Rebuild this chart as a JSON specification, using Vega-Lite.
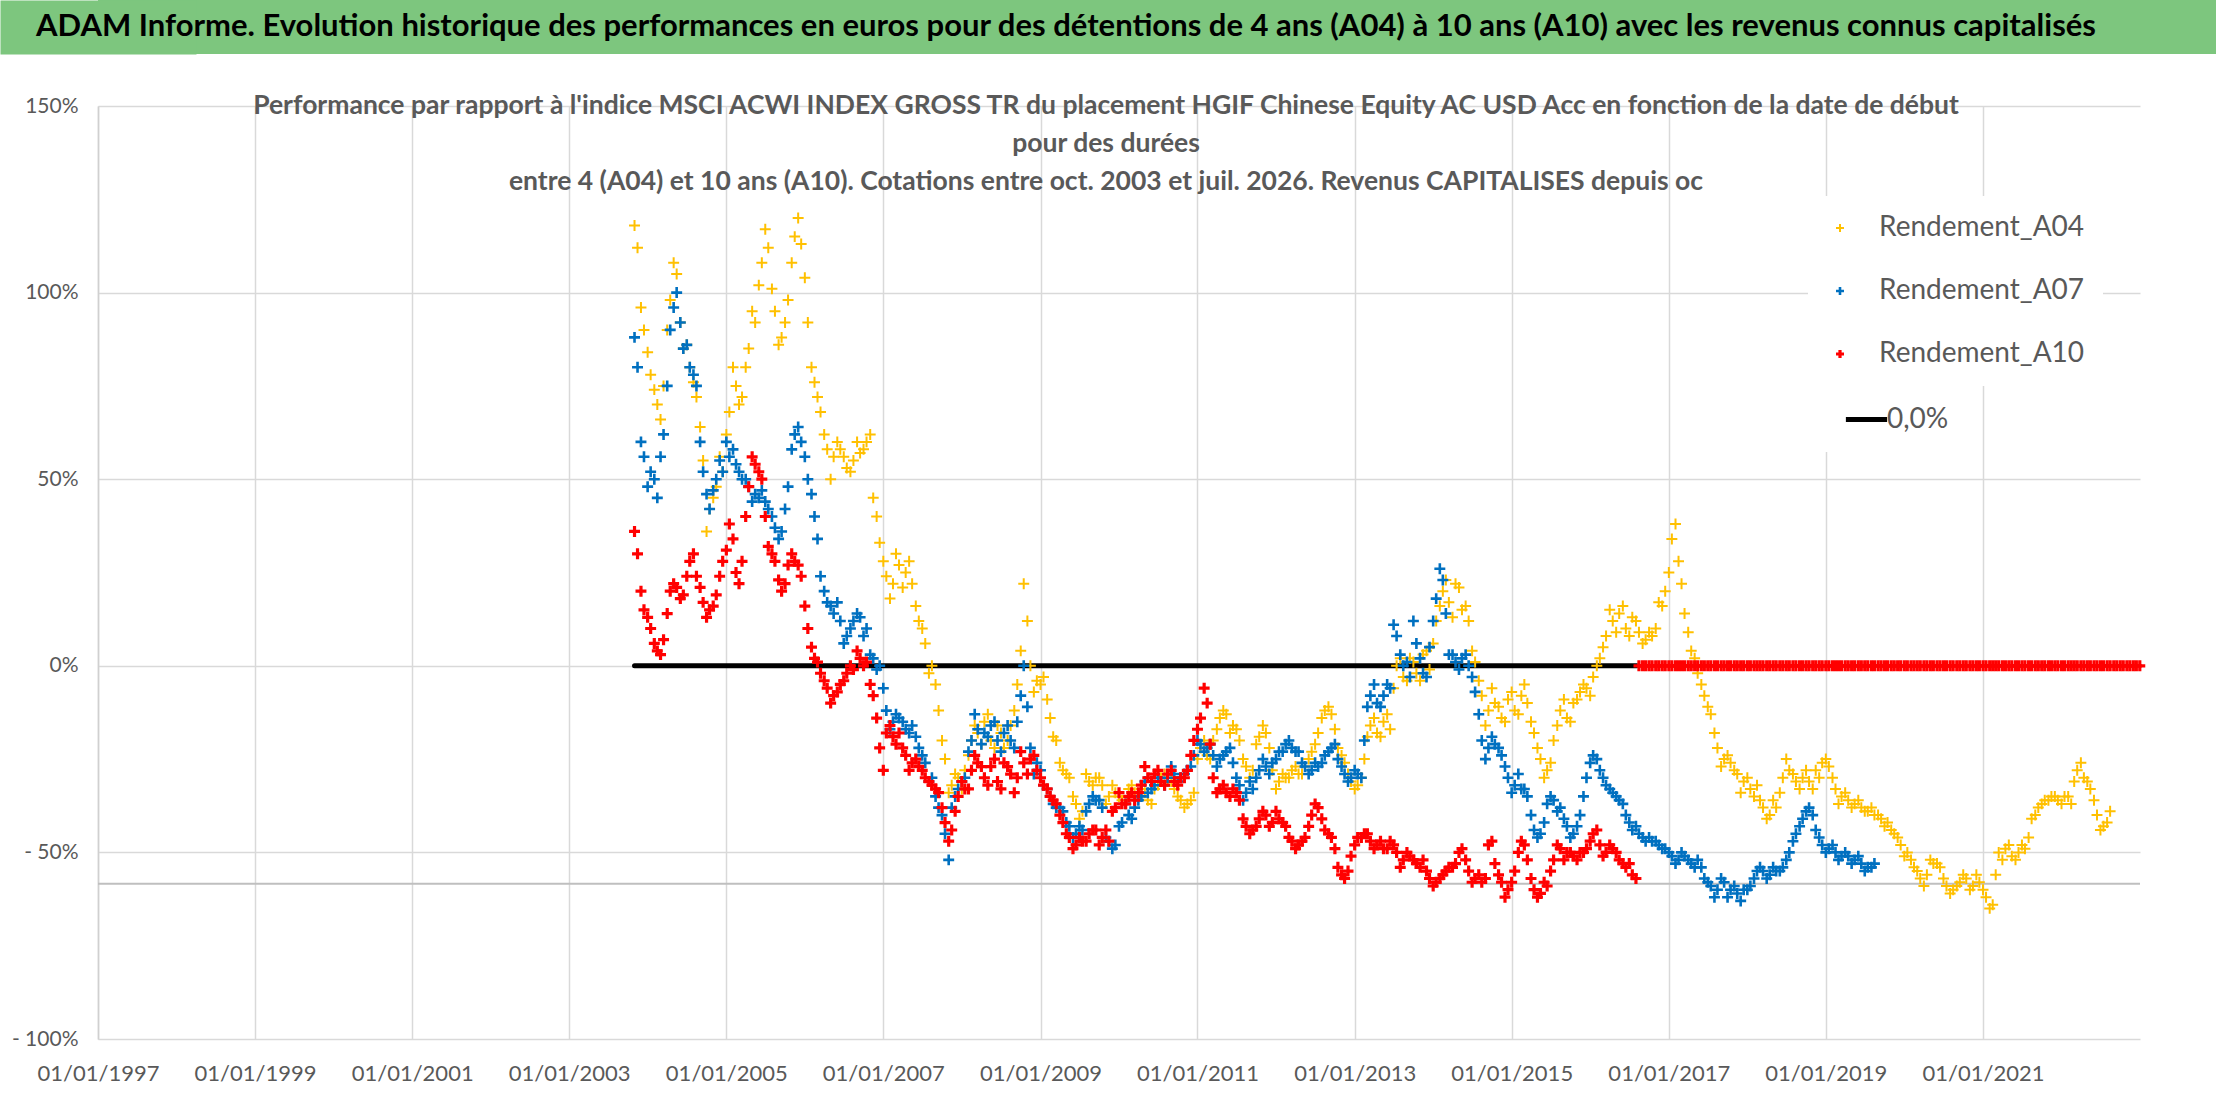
{
  "$schema": "https://vega.github.io/schema/vega-lite/v6.json",
  "padding": 0,
  "background": "white",
  "columns": 1,
  "align": "none",
  "spacing": 38,
  "datasets": {
    "zero": [{"d": "2003/11/01", "v": 0, "k": "0,0%"}, {"d": "2016/08/05", "v": 0, "k": "0,0%"}],
    "pts": [
      {"d": "2003/11/01", "a": 118, "b": 88, "c": 36},
      {"d": "2003/11/15", "a": 112, "b": 80, "c": 30},
      {"d": "2003/12/01", "a": 96, "b": 60, "c": 20},
      {"d": "2003/12/15", "a": 90, "b": 56, "c": 15},
      {"d": "2004/01/01", "a": 84, "b": 48, "c": 13},
      {"d": "2004/01/15", "a": 78, "b": 52, "c": 10},
      {"d": "2004/02/01", "a": 74, "b": 50, "c": 6},
      {"d": "2004/02/15", "a": 70, "b": 45, "c": 4},
      {"d": "2004/03/01", "a": 66, "b": 56, "c": 3},
      {"d": "2004/03/15", "a": 75, "b": 62, "c": 7},
      {"d": "2004/04/01", "a": 90, "b": 75, "c": 14},
      {"d": "2004/04/15", "a": 98, "b": 90, "c": 20},
      {"d": "2004/05/01", "a": 108, "b": 96, "c": 22},
      {"d": "2004/05/15", "a": 105, "b": 100, "c": 21},
      {"d": "2004/06/01", "a": 92, "b": 92, "c": 18},
      {"d": "2004/06/15", "a": 85, "b": 85, "c": 19},
      {"d": "2004/07/01", "a": 86, "b": 86, "c": 24},
      {"d": "2004/07/15", "a": 80, "b": 80, "c": 28},
      {"d": "2004/08/01", "a": 76, "b": 78, "c": 30},
      {"d": "2004/08/15", "a": 72, "b": 75, "c": 24},
      {"d": "2004/09/01", "a": 64, "b": 60, "c": 21},
      {"d": "2004/09/15", "a": 55, "b": 52, "c": 17},
      {"d": "2004/10/01", "a": 36, "b": 46, "c": 13},
      {"d": "2004/10/15", "a": 42, "b": 42, "c": 15},
      {"d": "2004/11/01", "a": 45, "b": 47, "c": 16},
      {"d": "2004/11/15", "a": 48, "b": 50, "c": 19},
      {"d": "2004/12/01", "a": 56, "b": 55, "c": 24},
      {"d": "2004/12/15", "a": 52, "b": 52, "c": 28},
      {"d": "2005/01/01", "a": 62, "b": 60, "c": 31},
      {"d": "2005/01/15", "a": 68, "b": 56, "c": 38},
      {"d": "2005/02/01", "a": 80, "b": 58, "c": 34},
      {"d": "2005/02/15", "a": 75, "b": 54, "c": 25},
      {"d": "2005/03/01", "a": 70, "b": 52, "c": 22},
      {"d": "2005/03/15", "a": 72, "b": 50, "c": 28},
      {"d": "2005/04/01", "a": 80, "b": 50, "c": 40},
      {"d": "2005/04/15", "a": 85, "b": 48, "c": 48},
      {"d": "2005/05/01", "a": 95, "b": 44, "c": 56},
      {"d": "2005/05/15", "a": 92, "b": 46, "c": 54},
      {"d": "2005/06/01", "a": 102, "b": 45, "c": 52},
      {"d": "2005/06/15", "a": 108, "b": 47, "c": 50},
      {"d": "2005/07/01", "a": 117, "b": 44, "c": 40},
      {"d": "2005/07/15", "a": 112, "b": 42, "c": 32},
      {"d": "2005/08/01", "a": 101, "b": 40, "c": 30},
      {"d": "2005/08/15", "a": 95, "b": 37, "c": 28},
      {"d": "2005/09/01", "a": 86, "b": 34, "c": 23},
      {"d": "2005/09/15", "a": 88, "b": 36, "c": 20},
      {"d": "2005/10/01", "a": 92, "b": 42, "c": 22},
      {"d": "2005/10/15", "a": 98, "b": 48, "c": 27},
      {"d": "2005/11/01", "a": 108, "b": 58, "c": 30},
      {"d": "2005/11/15", "a": 115, "b": 62, "c": 28},
      {"d": "2005/12/01", "a": 120, "b": 64, "c": 27},
      {"d": "2005/12/15", "a": 113, "b": 60, "c": 24},
      {"d": "2006/01/01", "a": 104, "b": 56, "c": 16},
      {"d": "2006/01/15", "a": 92, "b": 50, "c": 10},
      {"d": "2006/02/01", "a": 80, "b": 46, "c": 5},
      {"d": "2006/02/15", "a": 76, "b": 40, "c": 2},
      {"d": "2006/03/01", "a": 72, "b": 34, "c": 1},
      {"d": "2006/03/15", "a": 68, "b": 24, "c": -2},
      {"d": "2006/04/01", "a": 62, "b": 20, "c": -4},
      {"d": "2006/04/15", "a": 58, "b": 17, "c": -6},
      {"d": "2006/05/01", "a": 50, "b": 16, "c": -10},
      {"d": "2006/05/15", "a": 56, "b": 14, "c": -8},
      {"d": "2006/06/01", "a": 60, "b": 17, "c": -7},
      {"d": "2006/06/15", "a": 58, "b": 12, "c": -5},
      {"d": "2006/07/01", "a": 56, "b": 6, "c": -4},
      {"d": "2006/07/15", "a": 53, "b": 8, "c": -2},
      {"d": "2006/08/01", "a": 52, "b": 10, "c": 0},
      {"d": "2006/08/15", "a": 55, "b": 12, "c": -1},
      {"d": "2006/09/01", "a": 60, "b": 14, "c": 4},
      {"d": "2006/09/15", "a": 57, "b": 13, "c": 2},
      {"d": "2006/10/01", "a": 58, "b": 8, "c": 0},
      {"d": "2006/10/15", "a": 60, "b": 10, "c": 1},
      {"d": "2006/11/01", "a": 62, "b": 3, "c": -5},
      {"d": "2006/11/15", "a": 45, "b": 2, "c": -8},
      {"d": "2006/12/01", "a": 40, "b": -1, "c": -14},
      {"d": "2006/12/15", "a": 33, "b": 0, "c": -22},
      {"d": "2007/01/01", "a": 28, "b": -6, "c": -28},
      {"d": "2007/01/15", "a": 24, "b": -12, "c": -18},
      {"d": "2007/02/01", "a": 18, "b": -17, "c": -16},
      {"d": "2007/02/15", "a": 22, "b": -15, "c": -19},
      {"d": "2007/03/01", "a": 30, "b": -13, "c": -21},
      {"d": "2007/03/15", "a": 27, "b": -14, "c": -18},
      {"d": "2007/04/01", "a": 21, "b": -15, "c": -22},
      {"d": "2007/04/15", "a": 25, "b": -17, "c": -24},
      {"d": "2007/05/01", "a": 28, "b": -18, "c": -28},
      {"d": "2007/05/15", "a": 22, "b": -16, "c": -26},
      {"d": "2007/06/01", "a": 16, "b": -19, "c": -25},
      {"d": "2007/06/15", "a": 12, "b": -22, "c": -27},
      {"d": "2007/07/01", "a": 10, "b": -24, "c": -28},
      {"d": "2007/07/15", "a": 6, "b": -26, "c": -30},
      {"d": "2007/08/01", "a": -2, "b": -31, "c": -31},
      {"d": "2007/08/15", "a": 0, "b": -30, "c": -32},
      {"d": "2007/09/01", "a": -5, "b": -35, "c": -33},
      {"d": "2007/09/15", "a": -12, "b": -38, "c": -34},
      {"d": "2007/10/01", "a": -20, "b": -40, "c": -38},
      {"d": "2007/10/15", "a": -25, "b": -45, "c": -42},
      {"d": "2007/11/01", "a": -34, "b": -52, "c": -47},
      {"d": "2007/11/15", "a": -32, "b": -38, "c": -44},
      {"d": "2007/12/01", "a": -29, "b": -35, "c": -39},
      {"d": "2007/12/15", "a": -30, "b": -33, "c": -35},
      {"d": "2008/01/01", "a": -33, "b": -31, "c": -31},
      {"d": "2008/01/15", "a": -28, "b": -30, "c": -33},
      {"d": "2008/02/01", "a": -24, "b": -23, "c": -33},
      {"d": "2008/02/15", "a": -20, "b": -20, "c": -28},
      {"d": "2008/03/01", "a": -16, "b": -13, "c": -24},
      {"d": "2008/03/15", "a": -18, "b": -17, "c": -26},
      {"d": "2008/04/01", "a": -21, "b": -21, "c": -27},
      {"d": "2008/04/15", "a": -15, "b": -18, "c": -30},
      {"d": "2008/05/01", "a": -13, "b": -19, "c": -32},
      {"d": "2008/05/15", "a": -20, "b": -16, "c": -27},
      {"d": "2008/06/01", "a": -22, "b": -15, "c": -25},
      {"d": "2008/06/15", "a": -16, "b": -20, "c": -31},
      {"d": "2008/07/01", "a": -18, "b": -23, "c": -33},
      {"d": "2008/07/15", "a": -22, "b": -18, "c": -26},
      {"d": "2008/08/01", "a": -20, "b": -16, "c": -27},
      {"d": "2008/08/15", "a": -16, "b": -20, "c": -29},
      {"d": "2008/09/01", "a": -12, "b": -22, "c": -34},
      {"d": "2008/09/15", "a": -5, "b": -15, "c": -30},
      {"d": "2008/10/01", "a": 4, "b": -8, "c": -23},
      {"d": "2008/10/15", "a": 22, "b": 0, "c": -26},
      {"d": "2008/11/01", "a": 12, "b": -11, "c": -29},
      {"d": "2008/11/15", "a": 0, "b": -22, "c": -25},
      {"d": "2008/12/01", "a": -7, "b": -29, "c": -24},
      {"d": "2008/12/15", "a": -4, "b": -26, "c": -28},
      {"d": "2009/01/01", "a": -5, "b": -28, "c": -30},
      {"d": "2009/01/15", "a": -3, "b": -32, "c": -32},
      {"d": "2009/02/01", "a": -9, "b": -33, "c": -33},
      {"d": "2009/02/15", "a": -14, "b": -35, "c": -35},
      {"d": "2009/03/01", "a": -19, "b": -37, "c": -36},
      {"d": "2009/03/15", "a": -20, "b": -38, "c": -37},
      {"d": "2009/04/01", "a": -26, "b": -38, "c": -40},
      {"d": "2009/04/15", "a": -28, "b": -39, "c": -42},
      {"d": "2009/05/01", "a": -29, "b": -42, "c": -45},
      {"d": "2009/05/15", "a": -30, "b": -43, "c": -46},
      {"d": "2009/06/01", "a": -35, "b": -46, "c": -49},
      {"d": "2009/06/15", "a": -37, "b": -45, "c": -48},
      {"d": "2009/07/01", "a": -41, "b": -43, "c": -46},
      {"d": "2009/07/15", "a": -39, "b": -44, "c": -47},
      {"d": "2009/08/01", "a": -29, "b": -39, "c": -47},
      {"d": "2009/08/15", "a": -31, "b": -37, "c": -45},
      {"d": "2009/09/01", "a": -32, "b": -35, "c": -44},
      {"d": "2009/09/15", "a": -30, "b": -36, "c": -44},
      {"d": "2009/10/01", "a": -30, "b": -36, "c": -48},
      {"d": "2009/10/15", "a": -32, "b": -38, "c": -46},
      {"d": "2009/11/01", "a": -37, "b": -46, "c": -44},
      {"d": "2009/11/15", "a": -35, "b": -47, "c": -47},
      {"d": "2009/12/01", "a": -32, "b": -49, "c": -39},
      {"d": "2009/12/15", "a": -34, "b": -48, "c": -38},
      {"d": "2010/01/01", "a": -35, "b": -43, "c": -34},
      {"d": "2010/01/15", "a": -36, "b": -42, "c": -37},
      {"d": "2010/02/01", "a": -37, "b": -37, "c": -37},
      {"d": "2010/02/15", "a": -33, "b": -40, "c": -35},
      {"d": "2010/03/01", "a": -32, "b": -41, "c": -34},
      {"d": "2010/03/15", "a": -34, "b": -38, "c": -36},
      {"d": "2010/04/01", "a": -35, "b": -36, "c": -34},
      {"d": "2010/04/15", "a": -33, "b": -35, "c": -32},
      {"d": "2010/05/01", "a": -34, "b": -31, "c": -27},
      {"d": "2010/05/15", "a": -36, "b": -34, "c": -30},
      {"d": "2010/06/01", "a": -37, "b": -33, "c": -31},
      {"d": "2010/06/15", "a": -33, "b": -32, "c": -29},
      {"d": "2010/07/01", "a": -32, "b": -30, "c": -28},
      {"d": "2010/07/15", "a": -30, "b": -31, "c": -31},
      {"d": "2010/08/01", "a": -29, "b": -32, "c": -32},
      {"d": "2010/08/15", "a": -31, "b": -30, "c": -29},
      {"d": "2010/09/01", "a": -31, "b": -27, "c": -28},
      {"d": "2010/09/15", "a": -33, "b": -29, "c": -31},
      {"d": "2010/10/01", "a": -35, "b": -31, "c": -32},
      {"d": "2010/10/15", "a": -36, "b": -30, "c": -30},
      {"d": "2010/11/01", "a": -38, "b": -29, "c": -30},
      {"d": "2010/11/15", "a": -37, "b": -28, "c": -28},
      {"d": "2010/12/01", "a": -36, "b": -27, "c": -24},
      {"d": "2010/12/15", "a": -34, "b": -24, "c": -20},
      {"d": "2011/01/01", "a": -25, "b": -20, "c": -17},
      {"d": "2011/01/15", "a": -22, "b": -21, "c": -14},
      {"d": "2011/02/01", "a": -20, "b": -23, "c": -6},
      {"d": "2011/02/15", "a": -24, "b": -22, "c": -10},
      {"d": "2011/03/01", "a": -25, "b": -21, "c": -21},
      {"d": "2011/03/15", "a": -20, "b": -24, "c": -30},
      {"d": "2011/04/01", "a": -17, "b": -27, "c": -34},
      {"d": "2011/04/15", "a": -14, "b": -25, "c": -33},
      {"d": "2011/05/01", "a": -12, "b": -24, "c": -32},
      {"d": "2011/05/15", "a": -13, "b": -23, "c": -34},
      {"d": "2011/06/01", "a": -18, "b": -22, "c": -35},
      {"d": "2011/06/15", "a": -16, "b": -26, "c": -33},
      {"d": "2011/07/01", "a": -17, "b": -30, "c": -34},
      {"d": "2011/07/15", "a": -20, "b": -32, "c": -36},
      {"d": "2011/08/01", "a": -25, "b": -36, "c": -41},
      {"d": "2011/08/15", "a": -27, "b": -34, "c": -43},
      {"d": "2011/09/01", "a": -30, "b": -31, "c": -45},
      {"d": "2011/09/15", "a": -28, "b": -33, "c": -44},
      {"d": "2011/10/01", "a": -21, "b": -30, "c": -43},
      {"d": "2011/10/15", "a": -19, "b": -28, "c": -41},
      {"d": "2011/11/01", "a": -16, "b": -25, "c": -39},
      {"d": "2011/11/15", "a": -18, "b": -27, "c": -40},
      {"d": "2011/12/01", "a": -22, "b": -29, "c": -43},
      {"d": "2011/12/15", "a": -28, "b": -26, "c": -42},
      {"d": "2012/01/01", "a": -33, "b": -25, "c": -39},
      {"d": "2012/01/15", "a": -31, "b": -23, "c": -41},
      {"d": "2012/02/01", "a": -29, "b": -23, "c": -42},
      {"d": "2012/02/15", "a": -30, "b": -21, "c": -43},
      {"d": "2012/03/01", "a": -30, "b": -20, "c": -46},
      {"d": "2012/03/15", "a": -28, "b": -22, "c": -47},
      {"d": "2012/04/01", "a": -27, "b": -23, "c": -49},
      {"d": "2012/04/15", "a": -29, "b": -23, "c": -48},
      {"d": "2012/05/01", "a": -29, "b": -26, "c": -47},
      {"d": "2012/05/15", "a": -27, "b": -27, "c": -46},
      {"d": "2012/06/01", "a": -25, "b": -29, "c": -43},
      {"d": "2012/06/15", "a": -23, "b": -28, "c": -40},
      {"d": "2012/07/01", "a": -21, "b": -26, "c": -37},
      {"d": "2012/07/15", "a": -18, "b": -27, "c": -38},
      {"d": "2012/08/01", "a": -14, "b": -26, "c": -41},
      {"d": "2012/08/15", "a": -12, "b": -24, "c": -44},
      {"d": "2012/09/01", "a": -11, "b": -23, "c": -45},
      {"d": "2012/09/15", "a": -13, "b": -22, "c": -46},
      {"d": "2012/10/01", "a": -17, "b": -21, "c": -49},
      {"d": "2012/10/15", "a": -22, "b": -25, "c": -54},
      {"d": "2012/11/01", "a": -24, "b": -27, "c": -56},
      {"d": "2012/11/15", "a": -26, "b": -29, "c": -57},
      {"d": "2012/12/01", "a": -29, "b": -31, "c": -55},
      {"d": "2012/12/15", "a": -31, "b": -30, "c": -51},
      {"d": "2013/01/01", "a": -33, "b": -28, "c": -48},
      {"d": "2013/01/15", "a": -32, "b": -29, "c": -46},
      {"d": "2013/02/01", "a": -30, "b": -30, "c": -46},
      {"d": "2013/02/15", "a": -25, "b": -20, "c": -45},
      {"d": "2013/03/01", "a": -19, "b": -11, "c": -45},
      {"d": "2013/03/15", "a": -16, "b": -8, "c": -47},
      {"d": "2013/04/01", "a": -14, "b": -5, "c": -49},
      {"d": "2013/04/15", "a": -18, "b": -10, "c": -48},
      {"d": "2013/05/01", "a": -19, "b": -11, "c": -47},
      {"d": "2013/05/15", "a": -15, "b": -8, "c": -49},
      {"d": "2013/06/01", "a": -13, "b": -5, "c": -49},
      {"d": "2013/06/15", "a": -17, "b": -6, "c": -47},
      {"d": "2013/07/01", "a": -6, "b": 11, "c": -48},
      {"d": "2013/07/15", "a": 0, "b": 8, "c": -50},
      {"d": "2013/08/01", "a": 2, "b": 3, "c": -54},
      {"d": "2013/08/15", "a": -3, "b": 0, "c": -52},
      {"d": "2013/09/01", "a": -4, "b": 1, "c": -50},
      {"d": "2013/09/15", "a": 2, "b": -3, "c": -51},
      {"d": "2013/10/01", "a": 1, "b": 12, "c": -52},
      {"d": "2013/10/15", "a": -2, "b": 6, "c": -53},
      {"d": "2013/11/01", "a": -4, "b": 2, "c": -54},
      {"d": "2013/11/15", "a": 3, "b": -2, "c": -52},
      {"d": "2013/12/01", "a": 4, "b": -3, "c": -55},
      {"d": "2013/12/15", "a": -1, "b": 5, "c": -57},
      {"d": "2014/01/01", "a": 6, "b": 12, "c": -59},
      {"d": "2014/01/15", "a": 12, "b": 18, "c": -58},
      {"d": "2014/02/01", "a": 16, "b": 26, "c": -57},
      {"d": "2014/02/15", "a": 20, "b": 23, "c": -56},
      {"d": "2014/03/01", "a": 23, "b": 14, "c": -55},
      {"d": "2014/03/15", "a": 17, "b": 3, "c": -54},
      {"d": "2014/04/01", "a": 13, "b": 3, "c": -54},
      {"d": "2014/04/15", "a": 22, "b": 1, "c": -53},
      {"d": "2014/05/01", "a": 21, "b": -1, "c": -50},
      {"d": "2014/05/15", "a": 15, "b": 2, "c": -49},
      {"d": "2014/06/01", "a": 16, "b": 3, "c": -52},
      {"d": "2014/06/15", "a": 12, "b": 0, "c": -55},
      {"d": "2014/07/01", "a": 4, "b": -3, "c": -58},
      {"d": "2014/07/15", "a": 1, "b": -7, "c": -57},
      {"d": "2014/08/01", "a": -4, "b": -13, "c": -56},
      {"d": "2014/08/15", "a": -8, "b": -20, "c": -58},
      {"d": "2014/09/01", "a": -16, "b": -25, "c": -57},
      {"d": "2014/09/15", "a": -12, "b": -22, "c": -48},
      {"d": "2014/10/01", "a": -6, "b": -19, "c": -47},
      {"d": "2014/10/15", "a": -10, "b": -21, "c": -53},
      {"d": "2014/11/01", "a": -11, "b": -22, "c": -56},
      {"d": "2014/11/15", "a": -14, "b": -24, "c": -58},
      {"d": "2014/12/01", "a": -15, "b": -27, "c": -62},
      {"d": "2014/12/15", "a": -9, "b": -30, "c": -60},
      {"d": "2015/01/01", "a": -7, "b": -34, "c": -58},
      {"d": "2015/01/15", "a": -12, "b": -32, "c": -55},
      {"d": "2015/02/01", "a": -13, "b": -29, "c": -50},
      {"d": "2015/02/15", "a": -8, "b": -33, "c": -47},
      {"d": "2015/03/01", "a": -5, "b": -33, "c": -48},
      {"d": "2015/03/15", "a": -10, "b": -35, "c": -52},
      {"d": "2015/04/01", "a": -15, "b": -40, "c": -57},
      {"d": "2015/04/15", "a": -18, "b": -44, "c": -60},
      {"d": "2015/05/01", "a": -22, "b": -46, "c": -62},
      {"d": "2015/05/15", "a": -25, "b": -45, "c": -61},
      {"d": "2015/06/01", "a": -30, "b": -42, "c": -58},
      {"d": "2015/06/15", "a": -28, "b": -37, "c": -59},
      {"d": "2015/07/01", "a": -26, "b": -35, "c": -55},
      {"d": "2015/07/15", "a": -20, "b": -36, "c": -52},
      {"d": "2015/08/01", "a": -16, "b": -39, "c": -48},
      {"d": "2015/08/15", "a": -12, "b": -38, "c": -49},
      {"d": "2015/09/01", "a": -9, "b": -41, "c": -52},
      {"d": "2015/09/15", "a": -14, "b": -43, "c": -50},
      {"d": "2015/10/01", "a": -15, "b": -46, "c": -50},
      {"d": "2015/10/15", "a": -10, "b": -45, "c": -51},
      {"d": "2015/11/01", "a": -9, "b": -43, "c": -52},
      {"d": "2015/11/15", "a": -7, "b": -40, "c": -50},
      {"d": "2015/12/01", "a": -5, "b": -35, "c": -50},
      {"d": "2015/12/15", "a": -6, "b": -30, "c": -49},
      {"d": "2016/01/01", "a": -8, "b": -26, "c": -47},
      {"d": "2016/01/15", "a": -3, "b": -24, "c": -45},
      {"d": "2016/02/01", "a": 0, "b": -25, "c": -44},
      {"d": "2016/02/15", "a": 2, "b": -28, "c": -48},
      {"d": "2016/03/01", "a": 5, "b": -30, "c": -51},
      {"d": "2016/03/15", "a": 8, "b": -32, "c": -50},
      {"d": "2016/04/01", "a": 15, "b": -33, "c": -48},
      {"d": "2016/04/15", "a": 12, "b": -34, "c": -49},
      {"d": "2016/05/01", "a": 9, "b": -35, "c": -50},
      {"d": "2016/05/15", "a": 14, "b": -36, "c": -52},
      {"d": "2016/06/01", "a": 16, "b": -37, "c": -53},
      {"d": "2016/06/15", "a": 10, "b": -40, "c": -54},
      {"d": "2016/07/01", "a": 8, "b": -42, "c": -53},
      {"d": "2016/07/15", "a": 13, "b": -44, "c": -56},
      {"d": "2016/08/01", "a": 12, "b": -43, "c": -57},
      {"d": "2016/08/15", "a": 9, "b": -45, "c": 0},
      {"d": "2016/09/01", "a": 6, "b": -46, "c": 0},
      {"d": "2016/09/15", "a": 7, "b": -47, "c": 0},
      {"d": "2016/10/01", "a": 9, "b": -46, "c": 0},
      {"d": "2016/10/15", "a": 8, "b": -47, "c": 0},
      {"d": "2016/11/01", "a": 10, "b": -47, "c": 0},
      {"d": "2016/11/15", "a": 17, "b": -48, "c": 0},
      {"d": "2016/12/01", "a": 16, "b": -49, "c": 0},
      {"d": "2016/12/15", "a": 20, "b": -49, "c": 0},
      {"d": "2017/01/01", "a": 25, "b": -50, "c": 0},
      {"d": "2017/01/15", "a": 34, "b": -51, "c": 0},
      {"d": "2017/02/01", "a": 38, "b": -53, "c": 0},
      {"d": "2017/02/15", "a": 28, "b": -52, "c": 0},
      {"d": "2017/03/01", "a": 22, "b": -50, "c": 0},
      {"d": "2017/03/15", "a": 14, "b": -51, "c": 0},
      {"d": "2017/04/01", "a": 9, "b": -52, "c": 0},
      {"d": "2017/04/15", "a": 4, "b": -53, "c": 0},
      {"d": "2017/05/01", "a": 2, "b": -54, "c": 0},
      {"d": "2017/05/15", "a": -2, "b": -52, "c": 0},
      {"d": "2017/06/01", "a": -5, "b": -54, "c": 0},
      {"d": "2017/06/15", "a": -8, "b": -57, "c": 0},
      {"d": "2017/07/01", "a": -11, "b": -58, "c": 0},
      {"d": "2017/07/15", "a": -13, "b": -59, "c": 0},
      {"d": "2017/08/01", "a": -18, "b": -62, "c": 0},
      {"d": "2017/08/15", "a": -22, "b": -60, "c": 0},
      {"d": "2017/09/01", "a": -27, "b": -57, "c": 0},
      {"d": "2017/09/15", "a": -25, "b": -58, "c": 0},
      {"d": "2017/10/01", "a": -24, "b": -62, "c": 0},
      {"d": "2017/10/15", "a": -26, "b": -60, "c": 0},
      {"d": "2017/11/01", "a": -28, "b": -59, "c": 0},
      {"d": "2017/11/15", "a": -29, "b": -61, "c": 0},
      {"d": "2017/12/01", "a": -34, "b": -63, "c": 0},
      {"d": "2017/12/15", "a": -31, "b": -60, "c": 0},
      {"d": "2018/01/01", "a": -30, "b": -60, "c": 0},
      {"d": "2018/01/15", "a": -33, "b": -59, "c": 0},
      {"d": "2018/02/01", "a": -35, "b": -57, "c": 0},
      {"d": "2018/02/15", "a": -32, "b": -55, "c": 0},
      {"d": "2018/03/01", "a": -36, "b": -54, "c": 0},
      {"d": "2018/03/15", "a": -38, "b": -55, "c": 0},
      {"d": "2018/04/01", "a": -41, "b": -57, "c": 0},
      {"d": "2018/04/15", "a": -40, "b": -56, "c": 0},
      {"d": "2018/05/01", "a": -36, "b": -54, "c": 0},
      {"d": "2018/05/15", "a": -38, "b": -55, "c": 0},
      {"d": "2018/06/01", "a": -34, "b": -55, "c": 0},
      {"d": "2018/06/15", "a": -30, "b": -54, "c": 0},
      {"d": "2018/07/01", "a": -25, "b": -52, "c": 0},
      {"d": "2018/07/15", "a": -28, "b": -50, "c": 0},
      {"d": "2018/08/01", "a": -29, "b": -47, "c": 0},
      {"d": "2018/08/15", "a": -31, "b": -45, "c": 0},
      {"d": "2018/09/01", "a": -33, "b": -43, "c": 0},
      {"d": "2018/09/15", "a": -30, "b": -41, "c": 0},
      {"d": "2018/10/01", "a": -28, "b": -39, "c": 0},
      {"d": "2018/10/15", "a": -31, "b": -38, "c": 0},
      {"d": "2018/11/01", "a": -33, "b": -40, "c": 0},
      {"d": "2018/11/15", "a": -28, "b": -44, "c": 0},
      {"d": "2018/12/01", "a": -30, "b": -46, "c": 0},
      {"d": "2018/12/15", "a": -26, "b": -48, "c": 0},
      {"d": "2019/01/01", "a": -25, "b": -50, "c": 0},
      {"d": "2019/01/15", "a": -27, "b": -49, "c": 0},
      {"d": "2019/02/01", "a": -30, "b": -48, "c": 0},
      {"d": "2019/02/15", "a": -33, "b": -50, "c": 0},
      {"d": "2019/03/01", "a": -37, "b": -52, "c": 0},
      {"d": "2019/03/15", "a": -35, "b": -51, "c": 0},
      {"d": "2019/04/01", "a": -34, "b": -50, "c": 0},
      {"d": "2019/04/15", "a": -36, "b": -51, "c": 0},
      {"d": "2019/05/01", "a": -38, "b": -53, "c": 0},
      {"d": "2019/05/15", "a": -37, "b": -52, "c": 0},
      {"d": "2019/06/01", "a": -36, "b": -51, "c": 0},
      {"d": "2019/06/15", "a": -38, "b": -53, "c": 0},
      {"d": "2019/07/01", "a": -39, "b": -55, "c": 0},
      {"d": "2019/07/15", "a": -39, "b": -54, "c": 0},
      {"d": "2019/08/01", "a": -38, "b": -54, "c": 0},
      {"d": "2019/08/15", "a": -40, "b": -53, "c": 0},
      {"d": "2019/09/01", "a": -40, "c": 0},
      {"d": "2019/09/15", "a": -41, "c": 0},
      {"d": "2019/10/01", "a": -43, "c": 0},
      {"d": "2019/10/15", "a": -42, "c": 0},
      {"d": "2019/11/01", "a": -44, "c": 0},
      {"d": "2019/11/15", "a": -45, "c": 0},
      {"d": "2019/12/01", "a": -46, "c": 0},
      {"d": "2019/12/15", "a": -48, "c": 0},
      {"d": "2020/01/01", "a": -51, "c": 0},
      {"d": "2020/01/15", "a": -50, "c": 0},
      {"d": "2020/02/01", "a": -52, "c": 0},
      {"d": "2020/02/15", "a": -54, "c": 0},
      {"d": "2020/03/01", "a": -55, "c": 0},
      {"d": "2020/03/15", "a": -57, "c": 0},
      {"d": "2020/04/01", "a": -59, "c": 0},
      {"d": "2020/04/15", "a": -56, "c": 0},
      {"d": "2020/05/01", "a": -52, "c": 0},
      {"d": "2020/05/15", "a": -53, "c": 0},
      {"d": "2020/06/01", "a": -53, "c": 0},
      {"d": "2020/06/15", "a": -54, "c": 0},
      {"d": "2020/07/01", "a": -57, "c": 0},
      {"d": "2020/07/15", "a": -59, "c": 0},
      {"d": "2020/08/01", "a": -61, "c": 0},
      {"d": "2020/08/15", "a": -60, "c": 0},
      {"d": "2020/09/01", "a": -59, "c": 0},
      {"d": "2020/09/15", "a": -58, "c": 0},
      {"d": "2020/10/01", "a": -56, "c": 0},
      {"d": "2020/10/15", "a": -57, "c": 0},
      {"d": "2020/11/01", "a": -60, "c": 0},
      {"d": "2020/11/15", "a": -59, "c": 0},
      {"d": "2020/12/01", "a": -56, "c": 0},
      {"d": "2020/12/15", "a": -58, "c": 0},
      {"d": "2021/01/01", "a": -60, "c": 0},
      {"d": "2021/01/15", "a": -62, "c": 0},
      {"d": "2021/02/01", "a": -65, "c": 0},
      {"d": "2021/02/15", "a": -64, "c": 0},
      {"d": "2021/03/01", "a": -56, "c": 0},
      {"d": "2021/03/15", "a": -50, "c": 0},
      {"d": "2021/04/01", "a": -52, "c": 0},
      {"d": "2021/04/15", "a": -49, "c": 0},
      {"d": "2021/05/01", "a": -48, "c": 0},
      {"d": "2021/05/15", "a": -51, "c": 0},
      {"d": "2021/06/01", "a": -52, "c": 0},
      {"d": "2021/06/15", "a": -50, "c": 0},
      {"d": "2021/07/01", "a": -48, "c": 0},
      {"d": "2021/07/15", "a": -49, "c": 0},
      {"d": "2021/08/01", "a": -46, "c": 0},
      {"d": "2021/08/15", "a": -41, "c": 0},
      {"d": "2021/09/01", "a": -40, "c": 0},
      {"d": "2021/09/15", "a": -38, "c": 0},
      {"d": "2021/10/01", "a": -37, "c": 0},
      {"d": "2021/10/15", "a": -36, "c": 0},
      {"d": "2021/11/01", "a": -36, "c": 0},
      {"d": "2021/11/15", "a": -35, "c": 0},
      {"d": "2021/12/01", "a": -35, "c": 0},
      {"d": "2021/12/15", "a": -36, "c": 0},
      {"d": "2022/01/01", "a": -37, "c": 0},
      {"d": "2022/01/15", "a": -35, "c": 0},
      {"d": "2022/02/01", "a": -35, "c": 0},
      {"d": "2022/02/15", "a": -37, "c": 0},
      {"d": "2022/03/01", "a": -31, "c": 0},
      {"d": "2022/03/15", "a": -28, "c": 0},
      {"d": "2022/04/01", "a": -26, "c": 0},
      {"d": "2022/04/15", "a": -30, "c": 0},
      {"d": "2022/05/01", "a": -31, "c": 0},
      {"d": "2022/05/15", "a": -33, "c": 0},
      {"d": "2022/06/01", "a": -36, "c": 0},
      {"d": "2022/06/15", "a": -40, "c": 0},
      {"d": "2022/07/01", "a": -44, "c": 0},
      {"d": "2022/07/15", "a": -43, "c": 0},
      {"d": "2022/08/01", "a": -42, "c": 0},
      {"d": "2022/08/15", "a": -39, "c": 0},
      {"d": "2022/09/01", "c": 0},
      {"d": "2022/09/15", "c": 0},
      {"d": "2022/10/01", "c": 0},
      {"d": "2022/10/15", "c": 0},
      {"d": "2022/11/01", "c": 0},
      {"d": "2022/11/15", "c": 0},
      {"d": "2022/12/01", "c": 0},
      {"d": "2022/12/15", "c": 0},
      {"d": "2022/12/31", "c": 0}
    ]
  },
  "concat": [
    {
      "width": 2118,
      "height": 54,
      "view": {"fill": "#7DC67E", "stroke": null},
      "data": {"values": [{"t": "ADAM Informe. Evolution historique des performances en euros pour des détentions de 4 ans (A04) à 10 ans (A10) avec les revenus connus capitalisés"}]},
      "mark": {"type": "text", "font": "Lato", "fontSize": 31, "fontWeight": "bold", "color": "#000000", "dx": -91},
      "encoding": {
        "text": {"field": "t"},
        "y": {
          "datum": 0,
          "type": "quantitative",
          "scale": {"domain": [-1, 1]},
          "axis": {"title": null, "labels": false, "ticks": false, "grid": false, "domainColor": "#7DC67E", "domainWidth": 196, "domainCap": "butt", "minExtent": 98, "maxExtent": 98}
        }
      }
    },
    {
      "width": 2042,
      "height": 933,
      "view": {"stroke": null},
      "title": {
        "text": [
          "Performance par rapport à l'indice MSCI ACWI INDEX GROSS TR  du placement HGIF Chinese Equity AC USD Acc en fonction de la date de début",
          "pour des durées",
          "entre 4 (A04) et 10 ans (A10). Cotations entre oct. 2003 et juil. 2026. Revenus CAPITALISES depuis oc"
        ],
        "anchor": "middle",
        "frame": "group",
        "dx": -13,
        "offset": -100,
        "limit": 3000,
        "font": "Lato",
        "fontSize": 26.5,
        "fontWeight": "bold",
        "color": "#595959",
        "lineHeight": 38
      },
      "layer": [
        {
          "data": {"values": [{}]},
          "mark": {"type": "rule", "color": "#BFBFBF", "strokeWidth": 2},
          "encoding": {
            "y": {"datum": -58.4, "type": "quantitative", "scale": {"domain": [-100, 150], "nice": false, "zero": false}, "axis": {"title": null}}
          }
        },
        {
          "data": {"name": "zero"},
          "mark": {"type": "line", "color": "#000000", "strokeWidth": 5, "strokeCap": "round"},
          "encoding": {
            "x": {"field": "d", "type": "temporal", "scale": {"domain": [{"year": 1997, "month": 1, "date": 1}, {"year": 2023, "month": 1, "date": 1}], "nice": false}, "axis": {"title": null}},
            "y": {"field": "v", "type": "quantitative", "scale": {"domain": [-100, 150], "nice": false, "zero": false}, "axis": {"title": null}},
            "opacity": {
              "field": "k",
              "type": "nominal",
              "scale": {"domain": ["0,0%"], "range": [1, 1]},
              "legend": {
                "title": null,
                "orient": "none",
                "legendX": 1727,
                "legendY": 378,
                "fillColor": "white",
                "padding": 18,
                "labelFont": "Lato",
                "labelFontSize": 28,
                "labelColor": "#595959",
                "labelOffset": -3,
                "symbolType": "stroke",
                "symbolSize": 1700,
                "symbolStrokeWidth": 5,
                "symbolStrokeColor": "#000000"
              }
            }
          }
        },
        {
          "data": {"name": "pts"},
          "transform": [
            {"fold": ["a", "b", "c"], "as": ["s", "v"]},
            {"filter": "isValid(datum.v)"}
          ],
          "mark": {"type": "point", "filled": false, "size": 120, "opacity": 1},
          "encoding": {
            "x": {
              "field": "d",
              "type": "temporal",
              "scale": {"domain": [{"year": 1997, "month": 1, "date": 1}, {"year": 2023, "month": 1, "date": 1}], "nice": false},
              "axis": {
                "title": null,
                "values": [
                  {"year": 1997, "month": 1, "date": 1}, {"year": 1999, "month": 1, "date": 1},
                  {"year": 2001, "month": 1, "date": 1}, {"year": 2003, "month": 1, "date": 1},
                  {"year": 2005, "month": 1, "date": 1}, {"year": 2007, "month": 1, "date": 1},
                  {"year": 2009, "month": 1, "date": 1}, {"year": 2011, "month": 1, "date": 1},
                  {"year": 2013, "month": 1, "date": 1}, {"year": 2015, "month": 1, "date": 1},
                  {"year": 2017, "month": 1, "date": 1}, {"year": 2019, "month": 1, "date": 1},
                  {"year": 2021, "month": 1, "date": 1}
                ],
                "format": "%d/%m/%Y",
                "grid": true,
                "gridColor": "#D9D9D9",
                "gridWidth": 1.5,
                "domain": false,
                "ticks": false,
                "labelFont": "Lato",
                "labelFontSize": 22,
                "labelColor": "#595959",
                "labelPadding": 24,
                "labelFlush": false,
                "labelOverlap": false,
                "labelAlign": "center"
              }
            },
            "y": {
              "field": "v",
              "type": "quantitative",
              "scale": {"domain": [-100, 150], "nice": false, "zero": false},
              "axis": {
                "title": null,
                "values": [-100, -50, 0, 50, 100, 150],
                "labelExpr": "datum.value < 0 ? '- ' + abs(datum.value) + '%' : datum.value + '%'",
                "grid": true,
                "gridColor": "#D9D9D9",
                "gridWidth": 1.5,
                "domain": true,
                "domainColor": "#D0D0D0",
                "domainWidth": 1.5,
                "ticks": false,
                "labelFont": "Lato",
                "labelFontSize": 21,
                "labelColor": "#595959",
                "labelPadding": 20,
                "minExtent": 98,
                "maxExtent": 98
              }
            },
            "color": {
              "field": "s",
              "type": "nominal",
              "scale": {"domain": ["a", "b", "c"], "range": ["#FFC000", "#0070C0", "#FF0000"]},
              "legend": {
                "title": null,
                "orient": "none",
                "legendX": 1710,
                "legendY": 196,
                "fillColor": "white",
                "padding": 18,
                "labelFont": "Lato",
                "labelFontSize": 28,
                "labelColor": "#595959",
                "labelLimit": 500,
                "labelOffset": 25,
                "rowPadding": 35,
                "symbolSize": 64,
                "symbolStrokeWidth": 2.5,
                "labelExpr": "{'a': 'Rendement_A04', 'b': 'Rendement_A07', 'c': 'Rendement_A10'}[datum.label]"
              }
            },
            "shape": {
              "field": "s",
              "type": "nominal",
              "scale": {"domain": ["a", "b", "c"], "range": ["M-1,0H1M0,-1V1", "M-1,0H1M0,-1V1", "M-1,0H1M0,-1V1"]},
              "legend": {
                "title": null,
                "orient": "none",
                "legendX": 1710,
                "legendY": 196,
                "fillColor": "white",
                "padding": 18,
                "labelFont": "Lato",
                "labelFontSize": 28,
                "labelColor": "#595959",
                "labelLimit": 500,
                "labelOffset": 25,
                "rowPadding": 35,
                "symbolSize": 64,
                "symbolStrokeWidth": 2.5,
                "labelExpr": "{'a': 'Rendement_A04', 'b': 'Rendement_A07', 'c': 'Rendement_A10'}[datum.label]"
              }
            },
            "strokeWidth": {
              "field": "s",
              "type": "ordinal",
              "scale": {"domain": ["a", "b", "c"], "range": [2, 3.2, 3.2]},
              "legend": null
            },
            "order": {"field": "s"}
          }
        }
      ]
    }
  ],
  "config": {
    "font": "Lato",
    "view": {"stroke": null}
  }
}
